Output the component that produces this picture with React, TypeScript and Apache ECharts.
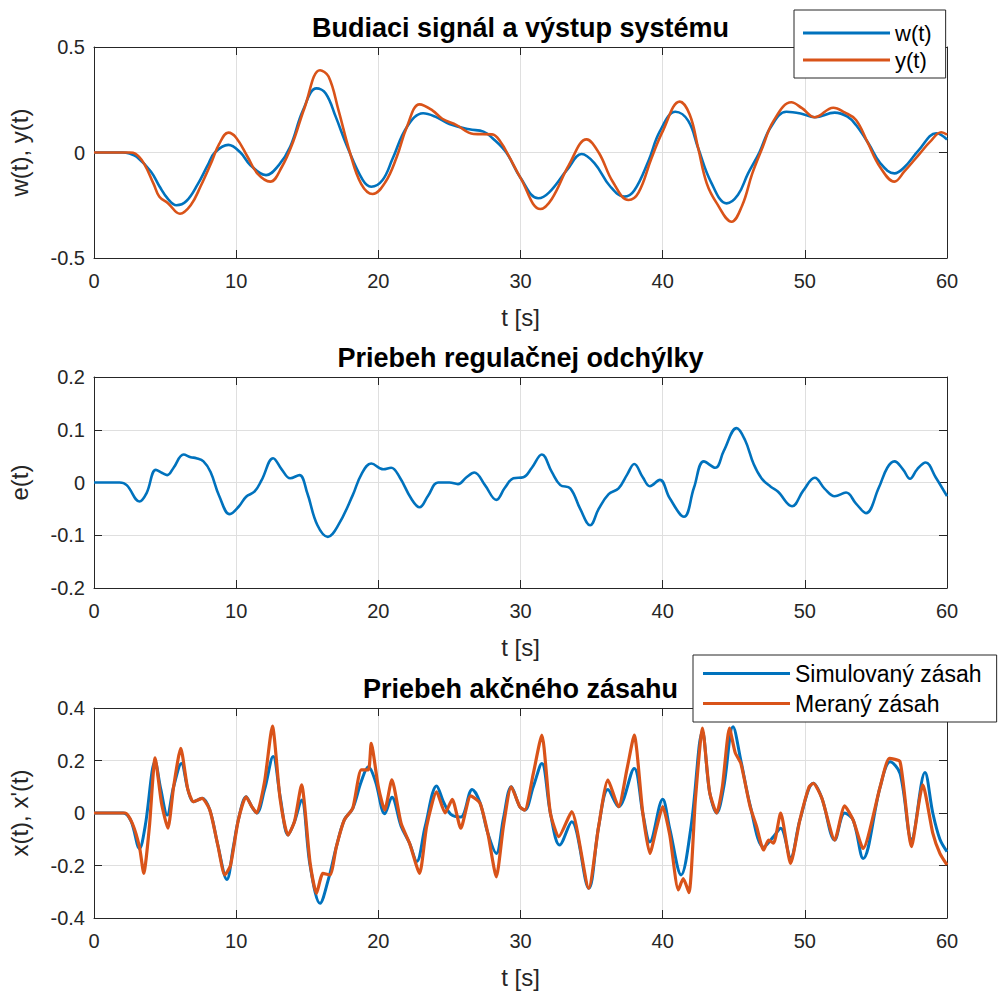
import React, { useEffect, useRef } from 'react';
import * as echarts from 'echarts';

// ---- Data (t [s], value) ----
const wData: [number, number][] = [
  [0, 0], [1, 0], [2, 0], [2.5, -0.005], [3, -0.02], [4, -0.09], [4.6, -0.16], [5.2, -0.22], [5.8, -0.25],
  [6.5, -0.23], [7.3, -0.15], [8, -0.06], [8.5, 0], [9.45, 0.036], [10.3, 0.0], [11, -0.06], [12.1, -0.107],
  [13, -0.06], [13.8, 0.027], [14.7, 0.2], [15.65, 0.304], [16.3, 0.28], [17, 0.17], [17.8, 0.03], [18.9, -0.13],
  [19.5, -0.162], [20.3, -0.13], [21, -0.03], [22, 0.12], [23.15, 0.186], [24, 0.17], [25, 0.135], [26.4, 0.11],
  [27.4, 0.099], [28, 0.07], [29, 0.0], [30, -0.12], [31.25, -0.217], [32, -0.19], [33.3, -0.08], [34.3, -0.007],
  [35.2, -0.05], [36.3, -0.16], [37.3, -0.209], [38, -0.18], [39, -0.04], [39.8, 0.1], [40.9, 0.193], [41.8, 0.15],
  [42.5, 0.02], [43.4, -0.14], [44.5, -0.241], [45.3, -0.2], [46, -0.1], [46.8, 0.0], [47.6, 0.12], [48.7, 0.193],
  [49.7, 0.185], [50.7, 0.167], [52.1, 0.189], [53, 0.17], [53.6, 0.13], [54.5, 0.04], [55.3, -0.05], [56.3, -0.099],
  [57, -0.07], [58, 0.01], [59.25, 0.091], [60, 0.062],
];

const yData: [number, number][] = [
  [0, 0], [2.5, 0], [2.9, -0.005], [3.5, -0.05], [4.2, -0.15], [4.6, -0.21], [5.2, -0.24], [6.05, -0.29],
  [6.8, -0.25], [7.5, -0.16], [8.3, -0.04], [8.8, 0.04], [9.45, 0.094], [10, 0.07], [10.8, -0.02], [11.5, -0.1],
  [12.4, -0.138], [13.2, -0.07], [14, 0.05], [14.8, 0.21], [15.9, 0.39], [16.5, 0.36], [17.2, 0.2], [18, 0.0],
  [18.8, -0.15], [19.6, -0.197], [20.5, -0.14], [21.3, -0.02], [22, 0.12], [22.9, 0.228], [23.8, 0.2], [24.5, 0.16],
  [25.5, 0.13], [26.7, 0.088], [28, 0.086], [28.6, 0.05], [29.2, -0.02], [30, -0.12], [31.4, -0.268], [32.2, -0.22],
  [33.4, -0.06], [34.65, 0.062], [35.5, 0.0], [36.5, -0.14], [37.6, -0.225], [38.3, -0.19], [39.2, -0.03], [40, 0.1],
  [41.2, 0.241], [41.9, 0.18], [42.5, 0.02], [43.1, -0.146], [43.8, -0.24], [44.85, -0.328], [45.6, -0.25],
  [46.3, -0.1], [47, 0.02], [47.8, 0.15], [49.05, 0.238], [49.8, 0.21], [50.7, 0.167], [52, 0.212], [52.8, 0.19],
  [53.6, 0.154], [54.4, 0.05], [55.3, -0.07], [56.3, -0.138], [57, -0.09], [58.1, -0.004], [58.8, 0.05],
  [59.6, 0.096], [60, 0.085],
];

const eData: [number, number][] = [
  [0, 0], [1.8, 0], [2.3, -0.005], [3.2, -0.036], [3.7, -0.02], [4.35, 0.024], [4.8, 0.018], [5.15, 0.014],
  [5.6, 0.028], [6.3, 0.053], [6.8, 0.048], [7.2, 0.046], [7.7, 0.04], [8.2, 0.02], [8.8, -0.025], [9.55, -0.06],
  [10.2, -0.045], [10.7, -0.027], [11.3, -0.017], [11.8, 0.005], [12.6, 0.046], [13.2, 0.025], [13.8, 0.008],
  [14.45, 0.014], [15, -0.02], [15.7, -0.08], [16.45, -0.103], [17.2, -0.08], [18.2, -0.024], [18.8, 0.015],
  [19.5, 0.036], [20.35, 0.025], [20.9, 0.028], [21.5, 0.01], [22.3, -0.03], [22.9, -0.047], [23.5, -0.025],
  [24.2, 0.0], [25.0, 0.0], [25.6, -0.003], [26.2, 0.01], [26.75, 0.019], [27.5, -0.005], [28.3, -0.033],
  [28.9, -0.01], [29.5, 0.008], [30.2, 0.01], [30.8, 0.028], [31.5, 0.053], [32.2, 0.02], [32.8, -0.005],
  [33.5, -0.011], [34.2, -0.05], [34.9, -0.081], [35.5, -0.05], [36.2, -0.022], [36.9, -0.011], [37.5, 0.015],
  [38.0, 0.035], [38.6, 0.01], [39.1, -0.007], [39.8, 0.005], [40.5, -0.03], [41.5, -0.065], [42.2, -0.01],
  [42.9, 0.04], [43.7, 0.028], [44.3, 0.06], [45.2, 0.103], [45.8, 0.08], [46.4, 0.035], [46.95, 0.008],
  [47.6, -0.008], [48.1, -0.017], [49.1, -0.045], [49.9, -0.015], [50.7, 0.009], [51.4, -0.012], [52.1, -0.026],
  [52.9, -0.019], [53.6, -0.04], [54.3, -0.058], [55.2, -0.01], [55.8, 0.028], [56.3, 0.04], [56.9, 0.025],
  [57.4, 0.007], [57.9, 0.025], [58.5, 0.038], [59.2, 0.01], [60, -0.026],
];

const xSimData: [number, number][] = [
  [0, 0], [2.05, 0], [2.6, -0.03], [3.2, -0.135], [3.6, -0.05], [4.3, 0.195], [4.7, 0.09], [5.15, -0.008],
  [5.6, 0.1], [6.15, 0.189], [6.6, 0.09], [7.0, 0.043], [7.6, 0.056], [8.15, 0.011], [8.7, -0.12], [9.35, -0.253],
  [9.8, -0.13], [10.15, -0.027], [10.7, 0.062], [11.1, 0.024], [11.45, 0.0], [12.0, 0.09], [12.6, 0.215],
  [13.1, 0.06], [13.65, -0.084], [14.1, -0.033], [14.6, 0.05], [15.2, -0.2], [15.9, -0.344], [16.5, -0.25],
  [17.05, -0.128], [17.6, -0.027], [18.2, 0.018], [18.8, 0.12], [19.3, 0.176], [19.8, 0.12], [20.45, -0.003],
  [20.95, 0.06], [21.6, -0.05], [22.2, -0.116], [22.7, -0.185], [23.3, -0.05], [24.1, 0.103], [24.6, 0.04],
  [25.1, -0.005], [25.8, -0.015], [26.6, 0.09], [27.15, 0.04], [27.7, -0.077], [28.3, -0.154], [28.8, -0.02],
  [29.35, 0.1], [29.95, 0.024], [30.3, 0.011], [30.9, 0.1], [31.5, 0.189], [32.1, 0.0], [32.75, -0.122],
  [33.6, -0.033], [34.8, -0.287], [35.5, -0.05], [36.15, 0.09], [36.9, 0.024], [38.0, 0.17], [38.6, 0.0],
  [39.1, -0.11], [40.0, 0.052], [40.5, -0.06], [41.3, -0.236], [42.0, -0.05], [42.8, 0.31], [43.3, 0.08],
  [43.8, 0.0], [44.3, 0.1], [44.95, 0.329], [45.5, 0.2], [46.15, 0.03], [47.1, -0.13], [47.8, -0.09],
  [48.3, -0.058], [49.0, -0.17], [49.65, -0.027], [50.6, 0.113], [51.2, 0.056], [52.1, -0.103], [52.8, 0.0],
  [53.4, -0.027], [54.1, -0.173], [55.3, 0.1], [56.0, 0.195], [56.7, 0.15], [57.5, -0.1], [58.45, 0.154],
  [59.0, 0.0], [59.5, -0.1], [60, -0.147],
];

const xMeasData: [number, number][] = [
  [0, 0], [2.2, 0], [2.7, -0.04], [3.2, -0.13], [3.5, -0.23], [3.9, -0.05], [4.3, 0.21], [4.75, 0.037],
  [5.2, -0.058], [5.6, 0.1], [6.1, 0.246], [6.6, 0.09], [7.0, 0.043], [7.6, 0.056], [8.15, 0.011], [8.7, -0.12],
  [9.2, -0.236], [9.6, -0.2], [10.15, -0.027], [10.7, 0.062], [11.1, 0.024], [11.45, 0.0], [12.0, 0.12],
  [12.55, 0.331], [13.1, 0.05], [13.65, -0.084], [14.1, -0.033], [14.6, 0.107], [15.2, -0.19], [15.65, -0.306],
  [16.1, -0.23], [16.6, -0.236], [17.05, -0.128], [17.6, -0.027], [18.2, 0.018], [18.8, 0.164], [19.3, 0.164],
  [19.5, 0.265], [20.0, 0.1], [20.45, 0.011], [20.95, 0.126], [21.6, -0.039], [22.2, -0.116], [22.9, -0.23],
  [23.4, -0.05], [24.1, 0.081], [24.7, 0.0], [25.2, 0.052], [25.8, -0.058], [26.5, 0.065], [27.15, 0.037],
  [27.7, -0.077], [28.3, -0.243], [28.8, -0.05], [29.35, 0.1], [29.95, 0.024], [30.3, 0.011], [30.9, 0.15],
  [31.5, 0.297], [32.1, 0.0], [32.7, -0.09], [33.6, 0.005], [34.8, -0.287], [35.5, -0.05], [36.15, 0.126],
  [36.9, 0.024], [37.5, 0.17], [38.0, 0.297], [38.6, 0.0], [39.1, -0.154], [39.6, -0.05], [40.0, 0.024],
  [40.5, -0.084], [41.1, -0.293], [41.45, -0.25], [41.85, -0.303], [42.3, 0.05], [42.8, 0.323], [43.3, 0.08],
  [43.8, 0.0], [44.2, 0.1], [44.7, 0.323], [45.1, 0.23], [45.5, 0.189], [46.15, 0.024], [46.6, -0.05],
  [47.1, -0.141], [47.45, -0.103], [47.8, -0.115], [48.3, 0.0], [49.0, -0.192], [49.65, -0.027], [50.3, 0.1],
  [50.6, 0.113], [51.2, 0.056], [52.1, -0.103], [52.8, 0.027], [53.4, -0.027], [54.1, -0.135], [55.3, 0.1],
  [55.95, 0.208], [56.7, 0.195], [57.5, -0.128], [58.3, 0.107], [59.0, -0.077], [59.5, -0.154], [60, -0.198],
];

const titles = ['Budiaci signál a výstup systému', 'Priebeh regulačnej odchýlky', 'Priebeh akčného zásahu'];
const yNames = ['w(t), y(t)', 'e(t)', "x(t), x'(t)"];
const xName = 't [s]';
const yRanges: [number, number, number][] = [
  [-0.5, 0.5, 0.5],
  [-0.2, 0.2, 0.1],
  [-0.4, 0.4, 0.2],
];

const FONT = "'Liberation Sans', Arial, Helvetica, sans-serif";
const AX = '#262626';
const GRIDC = '#dfdfdf';
const BLUE = '#0072BD';
const ORANGE = '#D95319';

export default function App() {
  const ref = useRef<HTMLDivElement>(null);
  useEffect(() => {
    if (!ref.current) return;
    const chart = echarts.init(ref.current, undefined, { renderer: 'svg' });
    const grids = [
      { left: 94, width: 853, top: 47, height: 211 },
      { left: 94, width: 853, top: 377, height: 211 },
      { left: 94, width: 853, top: 708, height: 210 },
    ];
    const xAxes: any[] = [];
    const yAxes: any[] = [];
    grids.forEach((_, i) => {
      xAxes.push({
        type: 'value', gridIndex: i, position: 'bottom', min: 0, max: 60, interval: 10,
        axisLine: { show: true, onZero: false, lineStyle: { color: AX, width: 1 } },
        axisTick: { show: true, inside: true, length: 8, lineStyle: { color: AX } },
        axisLabel: { show: true, color: AX, fontSize: 20, fontFamily: FONT, margin: 13 },
        splitLine: { show: true, lineStyle: { color: GRIDC, width: 1 } },
        name: xName, nameLocation: 'middle', nameGap: 47,
        nameTextStyle: { color: AX, fontSize: 24, fontFamily: FONT },
      });
      xAxes.push({
        type: 'value', gridIndex: i, position: 'top', min: 0, max: 60, interval: 10,
        axisLine: { show: true, onZero: false, lineStyle: { color: AX, width: 1 } },
        axisTick: { show: true, inside: true, length: 8, lineStyle: { color: AX } },
        axisLabel: { show: false }, splitLine: { show: false },
      });
      const [mn, mx, it] = yRanges[i];
      yAxes.push({
        type: 'value', gridIndex: i, position: 'left', min: mn, max: mx, interval: it,
        axisLine: { show: true, onZero: false, lineStyle: { color: AX, width: 1 } },
        axisTick: { show: true, inside: true, length: 8, lineStyle: { color: AX } },
        axisLabel: { show: true, color: AX, fontSize: 20, fontFamily: FONT, margin: 9 },
        splitLine: { show: true, lineStyle: { color: GRIDC, width: 1 } },
        name: yNames[i], nameLocation: 'middle', nameGap: 63,
        nameTextStyle: { color: AX, fontSize: 24, fontFamily: FONT },
      });
      yAxes.push({
        type: 'value', gridIndex: i, position: 'right', min: mn, max: mx, interval: it,
        axisLine: { show: true, onZero: false, lineStyle: { color: AX, width: 1 } },
        axisTick: { show: true, inside: true, length: 8, lineStyle: { color: AX } },
        axisLabel: { show: false }, splitLine: { show: false },
      });
    });
    const line = (name: string, data: [number, number][], g: number, color: string, width: number, smooth: number, z: number) => ({
      type: 'line', name, data, xAxisIndex: g * 2, yAxisIndex: g * 2, showSymbol: false, symbol: 'none',
      smooth, lineStyle: { color, width }, itemStyle: { color }, z, silent: true,
    });
    const titleTops = [14, 344, 675];
    chart.setOption({
      animation: false,
      backgroundColor: '#ffffff',
      grid: grids.map((g) => ({ ...g, outerBoundsMode: 'none' })),
      xAxis: xAxes,
      yAxis: yAxes,
      title: titles.map((t, i) => ({
        text: t, left: 520.5, top: titleTops[i], textAlign: 'center', padding: 0,
        textStyle: { fontSize: 27, fontWeight: 'bold', color: '#000', fontFamily: FONT },
      })),
      legend: [
        {
          data: ['w(t)', 'y(t)'], orient: 'vertical', left: 794, top: 10, icon: 'rect',
          itemWidth: 87, itemHeight: 3, itemGap: 5, padding: [12, 14, 7, 9],
          borderColor: AX, borderWidth: 1, backgroundColor: '#fff',
          textStyle: { fontSize: 22, color: '#000', fontFamily: FONT },
          selectedMode: false,
        },
        {
          data: ['Simulovaný zásah', 'Meraný zásah'], orient: 'vertical', left: 693, top: 655, icon: 'rect',
          itemWidth: 87, itemHeight: 3, itemGap: 7, padding: [7, 15, 7, 10],
          borderColor: AX, borderWidth: 1, backgroundColor: '#fff',
          textStyle: { fontSize: 23, color: '#000', fontFamily: FONT },
          selectedMode: false,
        },
      ],
      series: [
        line('w(t)', wData, 0, BLUE, 2.6, 0.4, 3),
        line('y(t)', yData, 0, ORANGE, 2.6, 0.4, 4),
        line('e(t)', eData, 1, BLUE, 2.6, 0.4, 3),
        line('Simulovaný zásah', xSimData, 2, BLUE, 3, 0.35, 3),
        line('Meraný zásah', xMeasData, 2, ORANGE, 3.2, 0.2, 4),
      ],
    });
    return () => chart.dispose();
  }, []);
  return (
    <div
      ref={ref}
      style={{ position: 'fixed', left: 0, top: 0, width: 998, height: 994, background: '#fff' }}
    />
  );
}
